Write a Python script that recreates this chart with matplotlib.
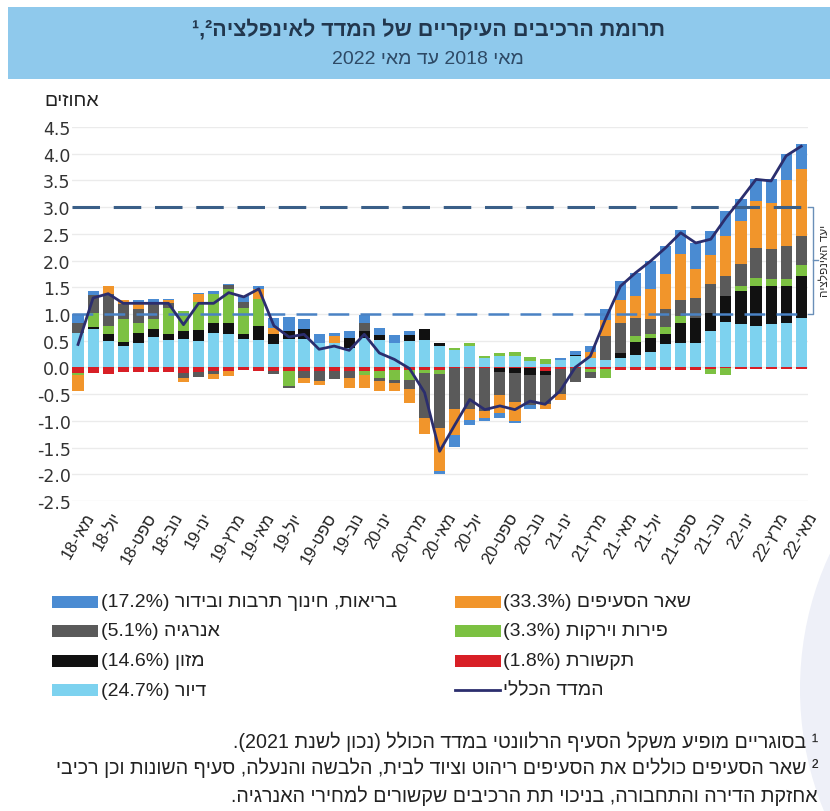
import re
import numpy as np
import matplotlib
matplotlib.use("Agg")
import matplotlib.pyplot as plt
from matplotlib.patches import Rectangle, Ellipse
from matplotlib.lines import Line2D

plt.rcParams['font.family'] = ['Liberation Sans', 'DejaVu Sans']

# monthly data, May 2018 .. May 2022 (percentage-point contributions)
housing = [.65, .71, .49, .40, .46, .57, .52, .53, .50, .64, .62, .53, .52, .43, .54, .54, .46, .46, .37, .56,
           .52, .45, .49, .52, .40, .32, .40, .18, .21, .22, .12, .06, .14, .21, .18, .14, .18, .24, .29, .43,
           .45, .46, .68, .85, .81, .77, .81, .84, .93]
communication = [-.10, -.10, -.12, -.08, -.08, -.08, -.08, -.10, -.08, -.06, -.06, -.05, -.06, -.07, -.07, -.07,
                 -.06, -.06, -.06, -.06, -.06, -.05, -.04, -.04, -.05, -.02, -.02, -.02, -.02, -.02, -.02, -.06,
                 -.03, -.02, -.03, -.03, -.05, -.04, -.05, -.05, -.05, -.04, -.03, -.02, -.03, -.03, -.03, -.03, -.03]
food = [0, .05, .13, .07, .19, .15, .10, .16, .20, .20, .22, .09, .25, .19, .14, .18, 0, 0, .19, .12,
        .08, 0, .11, .20, .05, 0, 0, 0, -.06, -.09, -.13, -.09, 0, .03, 0, 0, .09, .24, .27, .19,
        .39, .47, .34, .49, .62, .75, .71, .68, .79]
fruit_veg = [-.04, .25, .15, .43, .19, .18, .50, .37, .52, .53, .63, .50, .51, 0, -.28, 0, 0, 0, 0, -.09,
             -.13, -.18, -.19, -.06, -.08, .05, .06, .04, .06, .07, .08, .09, 0, 0, -.06, -.17, 0, .11, .06, .14,
             .12, 0, -.10, -.13, .09, .16, .13, .14, .19]
energy = [.18, .35, .60, .28, .25, .28, .09, -.10, -.09, -.06, .07, .10, 0, -.06, -.03, -.12, -.20, -.16, -.13, .16,
          -.06, -.06, -.18, -.85, -1.0, -.75, -.75, -.80, -.44, -.53, -.55, -.53, -.46, -.25, -.10, .45, .57, .34, .28, .33,
          .30, .37, .55, .37, .41, .56, .57, .62, .55]
other = [-.30, 0, .15, .09, .12, 0, .05, -.08, .15, -.10, -.10, 0, .19, .12, 0, -.10, -.06, .13, -.19, -.23,
         -.19, -.15, -.25, -.30, -.81, -.50, -.22, -.12, -.34, -.37, 0, -.09, -.12, 0, .10, .30, .43, .41, .57, .65,
         .86, .54, .53, .75, .81, .87, .86, 1.22, 1.26]
health = [.17, .07, 0, 0, .05, .11, .03, 0, .03, .06, .03, .12, .06, .19, .27, .18, .17, .06, .12, .15,
          .14, .15, .08, 0, -.06, -.21, -.08, -.06, -.09, -.03, -.07, 0, .04, .06, .12, .20, .35, .43, .52, .53,
          .46, .49, .45, .47, .41, .42, .44, .50, .46]
total = [.43, 1.30, 1.38, 1.20, 1.20, 1.20, 1.20, .80, 1.20, 1.20, 1.40, 1.32, 1.47, .78, .57, .62, .34, .40, .32, .62,
         .27, .15, -.02, -.47, -1.57, -1.08, -.60, -.79, -.72, -.79, -.63, -.69, -.44, .00, .21, .90, 1.52, 1.77, 1.99, 2.24,
         2.52, 2.33, 2.40, 2.80, 3.15, 3.52, 3.49, 3.96, 4.14]

months = ['מאי', 'יול', 'ספט', 'נוב', 'ינו', 'מרץ']
tick_labels = []
for i in range(25):
    m = months[i % 6]
    yr = 18 + (i + 2) // 6
    tick_labels.append(m + '-' + str(yr))

names = ['דיור (24.7%)', 'תקשורת (1.8%)', 'מזון (14.6%)', 'פירות וירקות (3.3%)',
         'אנרגיה (5.1%)', 'שאר הסעיפים (33.3%)', 'בריאות, חינוך תרבות ובידור (17.2%)']
colors = ['#7dd2ef', '#d81f26', '#111111', '#7cc142', '#5a5a5a', '#f1952b', '#4a8bd2']
line_name = 'המדד הכללי'
line_color = '#2b2e6e'


def rtl(s):
    # crude visual ordering for right-to-left text
    r = s[::-1]
    r = r.translate(str.maketrans('()', ')('))
    return re.sub(r'[\d%]+(?:[.,][\d%]+)*', lambda m: m.group(0)[::-1], r)


fig = plt.figure(figsize=(8.3, 8.12), dpi=100)
W, H = 830.0, 812.0

# header band
fig.patches.append(Rectangle((8 / W, 1 - 80 / H), 1 - 8 / W, 72 / H, transform=fig.transFigure,
                             facecolor='#8fc9ec', edgecolor='none', zorder=0))
fig.text(428 / W, 1 - 30 / H, '¹,²' + rtl('תרומת הרכיבים העיקריים של המדד לאינפלציה'),
         ha='center', va='center', fontsize=15.5, fontweight='bold', color='#22374e')
fig.text(428 / W, 1 - 60 / H, rtl('מאי 2018 עד מאי 2022'), ha='center', va='center',
         fontsize=14, color='#2e4a66')

# decorative shape at lower right
fig.patches.append(Ellipse((1040 / W, 1 - 690 / H), 480 / W, 560 / H, transform=fig.transFigure,
                           facecolor='#eef0f8', edgecolor='none', zorder=0))

ax = fig.add_axes([72 / W, 1 - 502 / H, (808 - 72) / W, (502 - 128) / H])
ax.set_facecolor('none')

x = np.arange(len(total))
series = [housing, communication, food, fruit_veg, energy, other, health]
pos_bottom = np.zeros(len(x))
neg_bottom = np.zeros(len(x))
for vals, c in zip(series, colors):
    v = np.array(vals)
    p = np.where(v > 0, v, 0)
    n = np.where(v < 0, v, 0)
    ax.bar(x, p, bottom=pos_bottom, width=0.74, color=c, zorder=3)
    ax.bar(x, n, bottom=neg_bottom, width=0.74, color=c, zorder=3)
    pos_bottom += p
    neg_bottom += n

ax.plot(x, total, color=line_color, lw=2, zorder=5)

ax.axhline(3.0, color='#3a5f88', lw=2.2, dashes=(9, 4.5), zorder=4)
ax.axhline(1.0, color='#4a82c4', lw=1.8, dashes=(8.3, 4.5), zorder=4)

ax.set_xlim(-0.4, 48.45)
ax.set_ylim(-2.5, 4.5)
ax.set_yticks(np.arange(-2.5, 4.51, 0.5))
ax.set_yticklabels(['%.1f' % t for t in np.arange(-2.5, 4.51, 0.5)], family='DejaVu Sans',
                   fontsize=12.5, color='#333333')
ax.set_xticks(x[::2])
ax.set_xticklabels([rtl(t) for t in tick_labels], rotation=60, ha='center', va='top',
                   fontsize=12, color='#222222')
ax.tick_params(axis='both', length=0)
ax.tick_params(axis='y', pad=1)
ax.tick_params(axis='x', pad=6)
ax.grid(axis='y', color='#ebebeb', lw=1, zorder=0)
for s in ax.spines.values():
    s.set_visible(False)

fig.text(72 / W, 1 - 101 / H, rtl('אחוזים'), ha='center', va='center', fontsize=14, color='#222222')

# target range bracket on the right
bx = 813 / W
y1, y3, y2 = 1 - 315 / H, 1 - 208 / H, 1 - 261 / H
fig.lines.append(Line2D([808 / W, bx, bx, 808 / W], [y3, y3, y1, y1], transform=fig.transFigure,
                        color='#6a8fb8', lw=1))
fig.lines.append(Line2D([bx, 818 / W], [y2, y2], transform=fig.transFigure, color='#6a8fb8', lw=1))
fig.text(819 / W, y2, rtl('יעד האינפלציה'), rotation=90, ha='left', va='center', fontsize=8.5,
         color='#333333')

# legend, right column first (RTL reading order)
rows = [603, 632, 662, 691]
left_items = [6, 4, 2, 0]
right_items = [5, 3, 1, None]
for r, li, ri in zip(rows, left_items, right_items):
    fy = 1 - r / H
    fig.patches.append(Rectangle((52 / W, fy - 6 / H), 46 / W, 12 / H, transform=fig.transFigure,
                                 facecolor=colors[li], edgecolor='none'))
    fig.text(101 / W, fy, rtl(names[li]), ha='left', va='center', fontsize=14, color='#222222')
    if ri is None:
        fig.lines.append(Line2D([455 / W, 500 / W], [fy, fy], transform=fig.transFigure,
                                color=line_color, lw=2))
        fig.text(503 / W, fy, rtl(line_name), ha='left', va='center', fontsize=14, color='#222222')
    else:
        fig.patches.append(Rectangle((455 / W, fy - 6 / H), 46 / W, 12 / H, transform=fig.transFigure,
                                     facecolor=colors[ri], edgecolor='none'))
        fig.text(503 / W, fy, rtl(names[ri]), ha='left', va='center', fontsize=14, color='#222222')

# footnotes
notes = ['¹ בסוגריים מופיע משקל הסעיף הרלוונטי במדד הכולל (נכון לשנת 2021).',
         '² שאר הסעיפים כוללים את הסעיפים ריהוט וציוד לבית, הלבשה והנעלה, סעיף השונות וכן רכיבי',
         'אחזקת הדירה והתחבורה, בניכוי תת הרכיבים שקשורים למחירי האנרגיה.']
for yy, t in zip([742, 768, 796], notes):
    fig.text(818 / W, 1 - yy / H, rtl(t), ha='right', va='center', fontsize=14.1, color='#222222')

fig.savefig('out.png', dpi=100)
